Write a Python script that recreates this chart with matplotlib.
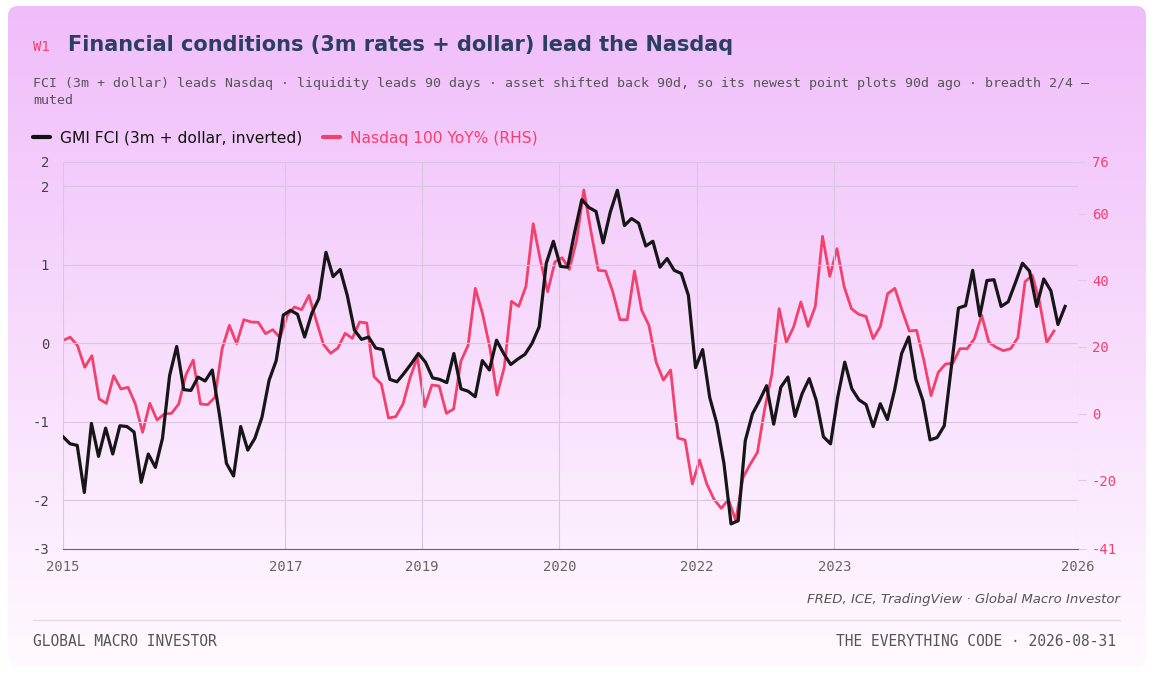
import numpy as np
import matplotlib
matplotlib.use("Agg")
import matplotlib.pyplot as plt
from matplotlib.patches import FancyBboxPatch
from matplotlib.lines import Line2D

fci = [-1.19,-1.28,-1.30,-1.90,-1.02,-1.44,-1.08,-1.41,-1.05,-1.06,-1.13,-1.77,-1.41,-1.58,-1.21,-0.41,-0.04,-0.59,-0.60,-0.43,-0.48,-0.34,-0.90,-1.53,-1.69,-1.06,-1.36,-1.21,-0.94,-0.47,-0.22,0.36,0.42,0.37,0.08,0.38,0.57,1.16,0.85,0.94,0.61,0.17,0.05,0.08,-0.06,-0.08,-0.46,-0.49,-0.38,
       -0.26,-0.13,-0.24,-0.44,-0.46,-0.50,-0.13,-0.58,-0.61,-0.68,-0.22,-0.34,0.04,-0.13,-0.27,-0.20,-0.14,0.00,0.21,1.02,1.30,0.98,0.97,1.42,1.83,1.73,1.68,1.28,1.67,1.95,1.50,1.59,1.53,1.24,1.30,0.97,1.08,0.93,0.89,0.61,-0.31,-0.08,-0.69,-1.02,-1.53,-2.30,-2.26,-1.24,-0.90,
       -0.73,-0.54,-1.03,-0.56,-0.43,-0.93,-0.64,-0.45,-0.73,-1.19,-1.28,-0.69,-0.24,-0.58,-0.72,-0.78,-1.06,-0.77,-0.97,-0.60,-0.13,0.08,-0.46,-0.73,-1.23,-1.20,-1.05,-0.30,0.45,0.48,0.93,0.35,0.80,0.81,0.47,0.53,0.77,1.02,0.92,0.47,0.82,0.67,0.24,0.47]
ndx = [21.95,22.95,20.45,13.9,17.4,4.4,3.1,11.4,7.4,7.9,2.9,-5.6,3.1,-1.9,-0.1,0.1,2.9,11.7,16.1,2.9,2.7,4.9,19.5,26.5,21.0,28.2,27.5,27.4,24.0,25.2,22.8,29.5,32.0,31.2,35.5,28.0,20.8,18.1,19.7,24.1,22.6,27.5,27.2,11.1,8.9,-1.3,-0.9,2.9,
       10.9,16.9,2.1,8.6,8.3,0.1,1.4,15.7,20.5,37.6,30.0,19.9,5.6,13.9,33.7,32.2,38.2,57.0,46.0,36.6,45.5,46.8,43.3,52.0,67.1,54.5,43.0,42.8,36.6,28.2,28.2,42.8,31.0,26.5,15.4,10.1,13.1,-7.3,-7.9,-21.1,-13.9,-21.1,-25.7,-28.4,-25.7,-32.1,-19.2,-15.2,
       -11.6,1.4,11.9,31.5,21.4,26.0,33.5,26.2,32.2,53.2,41.2,49.5,38.0,31.5,29.8,29.2,22.5,26.2,36.0,37.6,31.0,24.8,25.0,16.1,5.4,12.4,14.9,15.1,19.5,19.5,22.5,29.5,21.4,19.9,18.9,19.5,22.8,39.6,41.5,33.5,21.4,24.8]
fci_start, fci_end = 2015.0, 2025.86
ndx_start, ndx_end = 2015.0, 2025.74
xtick_pos = [2015.0, 2017.41, 2018.89, 2020.38, 2021.87, 2023.36, 2026.0]
xtick_lab = ["2015", "2017", "2019", "2020", "2022", "2023", "2026"]
ltick_pos = [2.31, 2, 1, 0, -1, -2, -2.62]
ltick_lab = ["2", "2", "1", "0", "-1", "-2", "-3"]
rtick_pos = [75.5, 60, 40, 20, 0, -20, -40.6]
rtick_lab = ["76", "60", "40", "20", "0", "-20", "-41"]

RED = "#f2416d"
W, H = 1151, 673
fig = plt.figure(figsize=(W/100, H/100), dpi=100)
fig.patch.set_facecolor("white")

bg = fig.add_axes([0, 0, 1, 1], zorder=-10)
bg.set_xlim(0, W); bg.set_ylim(H, 0); bg.axis("off")
grad = np.linspace(0, 1, 256).reshape(-1, 1)
top = np.array([0.94, 0.74, 0.98]); bot = np.array([1.0, 0.98, 1.0])
img = top[None, None, :] * (1 - grad[:, :, None]) + bot[None, None, :] * grad[:, :, None]
im = bg.imshow(img, extent=[8, 1146, 667, 6], aspect="auto")
card = FancyBboxPatch((8, 6), 1138, 661, boxstyle="round,pad=0,rounding_size=10",
                      transform=bg.transData, facecolor="none", edgecolor="none")
bg.add_patch(card)
im.set_clip_path(card)

mono = "DejaVu Sans Mono"
fig.text(33/W, 1-47/H, "W1", color=RED, fontsize=10, family=mono, va="center")
fig.text(68/W, 1-45/H, "Financial conditions (3m rates + dollar) lead the Nasdaq",
         color="#2b3f5e", fontsize=15, fontweight="bold", va="center")
fig.text(33/W, 1-84/H, "FCI (3m + dollar) leads Nasdaq · liquidity leads 90 days · asset shifted back 90d, so its newest point plots 90d ago · breadth 2/4 —",
         color="#555", fontsize=9.5, family=mono, va="center")
fig.text(33/W, 1-101/H, "muted", color="#555", fontsize=9.5, family=mono, va="center")

bg.add_line(Line2D([33, 50], [137, 137], color="#111", lw=3, solid_capstyle="round"))
fig.text(60/W, 1-138/H, "GMI FCI (3m + dollar, inverted)", color="#111", fontsize=11.2, va="center")
bg.add_line(Line2D([323, 340], [137, 137], color=RED, lw=3, solid_capstyle="round"))
fig.text(350/W, 1-138/H, "Nasdaq 100 YoY% (RHS)", color=RED, fontsize=11.2, va="center")

ax = fig.add_axes([63/W, 1-549/H, 1015/W, 387/H])
ax.set_facecolor("none")
ax2 = ax.twinx()
xf = np.linspace(fci_start, fci_end, len(fci))
xn = np.linspace(ndx_start, ndx_end, len(ndx))
ax2.plot(xn, ndx, color=RED, lw=2, zorder=2)
ax.plot(xf, fci, color="#161616", lw=2.3, zorder=3)
ax.set_zorder(ax2.get_zorder() + 1)
ax.patch.set_visible(False)
ax.set_xlim(2015.0, 2026.0)
ax.set_ylim(-2.62, 2.31)
ax2.set_ylim(-40.6, 75.5)
ax.set_xticks(xtick_pos, xtick_lab)
ax.set_yticks(ltick_pos, ltick_lab)
ax2.set_yticks(rtick_pos, rtick_lab)
ax.grid(True, color="#d9c6e0", lw=0.8)
for a in (ax, ax2):
    for s in a.spines.values():
        s.set_visible(False)
ax.spines["bottom"].set_visible(True)
ax.spines["bottom"].set_color("#666")
ax.tick_params(axis="x", length=0, pad=8, labelcolor="#666", labelsize=10)
ax.tick_params(axis="y", length=0, pad=10, labelcolor="#444", labelsize=10)
ax2.tick_params(axis="y", length=6, color="#e0c8e6", pad=4, labelcolor=RED, labelsize=10)
for lab in ax.get_xticklabels() + ax.get_yticklabels() + ax2.get_yticklabels():
    lab.set_family(mono)

fig.text(1120/W, 1-600/H, "FRED, ICE, TradingView · Global Macro Investor", color="#555",
         fontsize=9.5, style="italic", ha="right", va="center")
bg.add_line(Line2D([33, 1120], [620, 620], color="#e6dbe9", lw=1))
fig.text(33/W, 1-641/H, "GLOBAL MACRO INVESTOR", color="#555",
         fontsize=10.5, family=mono, va="center")
fig.text(1116/W, 1-641/H, "THE EVERYTHING CODE · 2026-08-31", color="#555",
         fontsize=10.5, family=mono, va="center", ha="right")

fig.savefig("out.png", dpi=100)
